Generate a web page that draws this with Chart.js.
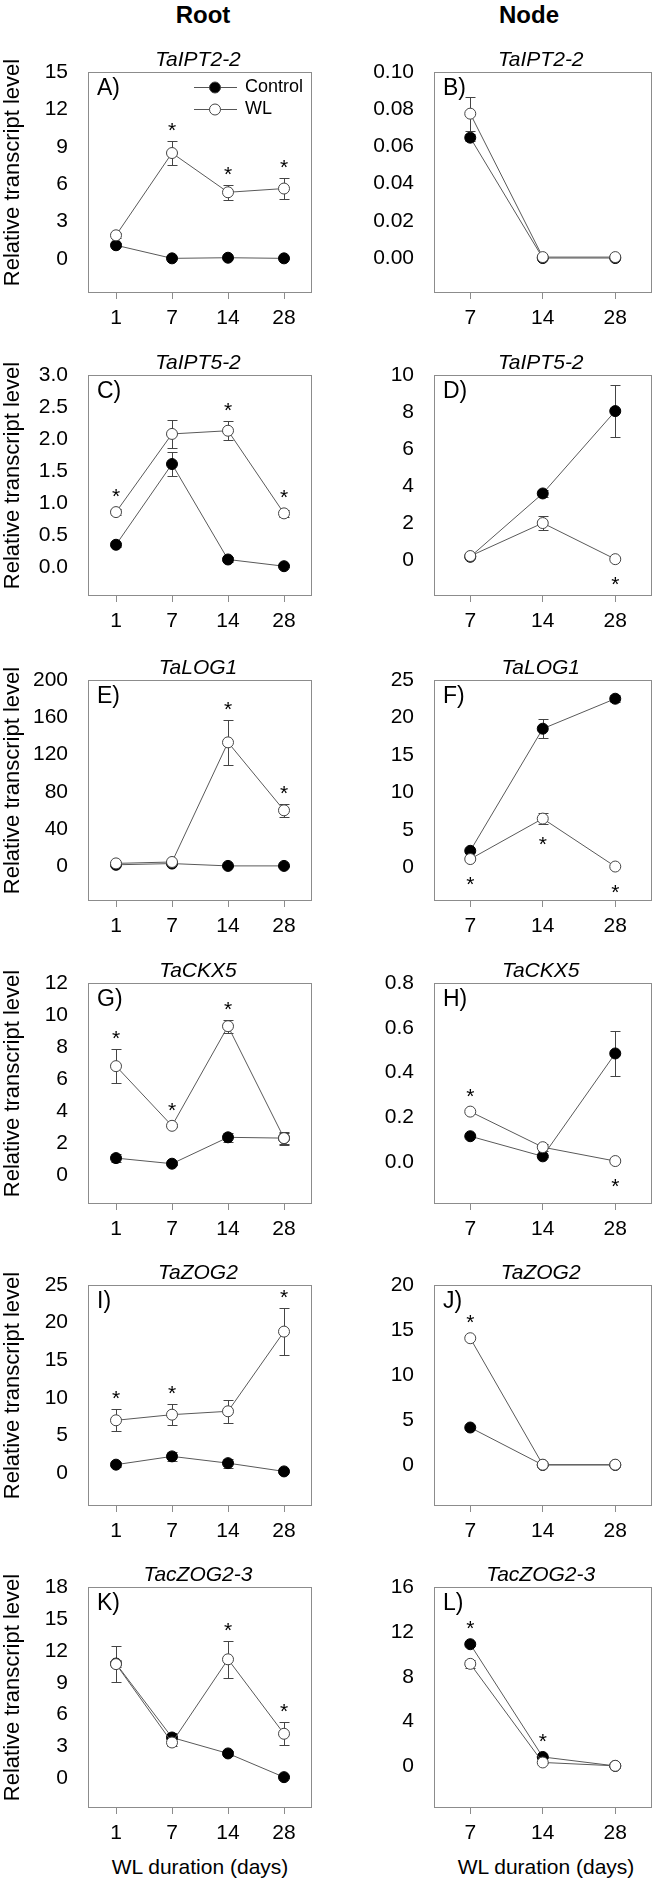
<!DOCTYPE html>
<html lang="en">
<head>
<meta charset="UTF-8">
<title>Cytokinin gene transcript levels</title>
<script src="https://cdn.jsdelivr.net/npm/chart.js"></script>
<style>
  body { margin: 0; background: #fff; }
  #fig { position: relative; width: 658px; height: 1880px; background: #fff; font-family: "Liberation Sans", Arial, sans-serif; }
  #fig canvas { position: absolute; }
  .head { position: absolute; font-weight: bold; font-size: 24px; transform: translate(-50%, -50%); }
  .xlab { position: absolute; font-size: 21px; transform: translate(-50%, -50%); white-space: nowrap; }
</style>
</head>
<body>
<div id="fig">
  <div class="head" style="left:203px;top:15px">Root</div>
  <div class="head" style="left:529px;top:15px">Node</div>
  <div class="xlab" style="left:200px;top:1867px">WL duration (days)</div>
  <div class="xlab" style="left:546px;top:1867px">WL duration (days)</div>
</div>
<script>
const rootDays = ['1', '7', '14', '28'];
const nodeDays = ['7', '14', '28'];

// A) TaIPT2-2, root
const aControl = [1.1, 0.05, 0.1, 0.05];
const aControlErr = [0.15, 0.05, 0.05, 0.05];
const aWL = [1.9, 8.5, 5.35, 5.65];
const aWLErr = [0.2, 0.95, 0.6, 0.85];
const aStars = ['', 'up', 'up', 'up'];
// B) TaIPT2-2, node
const bControl = [0.0647, 0.0, 0.0];
const bControlErr = [0.002, 0, 0];
const bWL = [0.0776, 0.0005, 0.0005];
const bWLErr = [0.0092, 0, 0];
const bStars = ['', '', ''];
// C) TaIPT5-2, root
const cControl = [0.35, 1.61, 0.12, 0.015];
const cControlErr = [0.03, 0.19, 0.04, 0.02];
const cWL = [0.86, 2.08, 2.13, 0.84];
const cWLErr = [0.05, 0.22, 0.15, 0.05];
const cStars = ['up', '', 'up', 'up'];
// D) TaIPT5-2, node
const dControl = [0.18, 3.6, 8.05];
const dControlErr = [0.05, 0.2, 1.4];
const dWL = [0.22, 2.0, 0.05];
const dWLErr = [0.05, 0.4, 0.05];
const dStars = ['', '', 'down'];
// E) TaLOG1, root
const eControl = [1.5, 2.8, 0.3, 0.3];
const eControlErr = [0.3, 0.5, 0.1, 0.1];
const eWL = [3.0, 4.5, 133, 60];
const eWLErr = [0.5, 1, 24.5, 7];
const eStars = ['', '', 'up', 'up'];
// F) TaLOG1, node
const fControl = [2.2, 18.5, 22.5];
const fControlErr = [0.2, 1.3, 0.5];
const fWL = [1.1, 6.5, 0.1];
const fWLErr = [0.1, 0.7, 0.05];
const fStars = ['down', 'down', 'down'];
// G) TaCKX5, root
const gControl = [1.05, 0.7, 2.35, 2.3];
const gControlErr = [0.25, 0.1, 0.3, 0.35];
const gWL = [6.8, 3.07, 9.3, 2.3];
const gWLErr = [1.05, 0.1, 0.4, 0.4];
const gStars = ['up', 'up', 'up', ''];
// H) TaCKX5, node
const hControl = [0.115, 0.025, 0.485];
const hControlErr = [0.005, 0.005, 0.1];
const hWL = [0.225, 0.066, 0.004];
const hWLErr = [0.008, 0.015, 0.003];
const hStars = ['up', '', 'down'];
// I) TaZOG2, root
const iControl = [1.1, 2.2, 1.3, 0.2];
const iControlErr = [0.3, 0.6, 0.6, 0.1];
const iWL = [7.0, 7.75, 8.2, 18.8];
const iWLErr = [1.45, 1.4, 1.5, 3.1];
const iStars = ['up', 'up', '', 'up'];
// J) TaZOG2, node
const jControl = [4.2, 0.05, 0.05];
const jControlErr = [0, 0, 0];
const jWL = [14.1, 0.08, 0.08];
const jWLErr = [0, 0, 0];
const jStars = ['up', '', ''];
// K) TacZOG2-3, root
const kControl = [10.8, 3.85, 2.35, 0.12];
const kControlErr = [0.3, 0.4, 0.2, 0.1];
const kWL = [10.75, 3.38, 11.2, 4.2];
const kWLErr = [1.7, 0.35, 1.75, 1.1];
const kStars = ['', '', 'up', 'up'];
// L) TacZOG2-3, node
const lControl = [10.9, 0.85, 0.05];
const lControlErr = [0.2, 0.1, 0.02];
const lWL = [9.15, 0.36, 0.06];
const lWLErr = [0.35, 0.05, 0.02];
const lStars = ['up', 'up', ''];

const FONT = '"Liberation Sans", Arial, sans-serif';
const rowTop = [72, 375, 680, 983, 1285, 1587];
const boxH = 221;
const pad = 44;

const panels = [
  { tag: 'A)', gene: 'TaIPT2-2', days: rootDays, ctrl: aControl, ctrlErr: aControlErr, wl: aWL, wlErr: aWLErr, stars: aStars, min: -2.73, max: 15, step: 3, dec: 0, col: 0, row: 0, legend: true },
  { tag: 'B)', gene: 'TaIPT2-2', days: nodeDays, ctrl: bControl, ctrlErr: bControlErr, wl: bWL, wlErr: bWLErr, stars: bStars, min: -0.0188, max: 0.1, step: 0.02, dec: 2, col: 1, row: 0 },
  { tag: 'C)', gene: 'TaIPT5-2', days: rootDays, ctrl: cControl, ctrlErr: cControlErr, wl: cWL, wlErr: cWLErr, stars: cStars, min: -0.45, max: 3, step: 0.5, dec: 1, col: 0, row: 1 },
  { tag: 'D)', gene: 'TaIPT5-2', days: nodeDays, ctrl: dControl, ctrlErr: dControlErr, wl: dWL, wlErr: dWLErr, stars: dStars, min: -1.94, max: 10, step: 2, dec: 0, col: 1, row: 1 },
  { tag: 'E)', gene: 'TaLOG1', days: rootDays, ctrl: eControl, ctrlErr: eControlErr, wl: eWL, wlErr: eWLErr, stars: eStars, min: -37.4, max: 200, step: 40, dec: 0, col: 0, row: 2 },
  { tag: 'F)', gene: 'TaLOG1', days: nodeDays, ctrl: fControl, ctrlErr: fControlErr, wl: fWL, wlErr: fWLErr, stars: fStars, min: -4.5, max: 25, step: 5, dec: 0, col: 1, row: 2 },
  { tag: 'G)', gene: 'TaCKX5', days: rootDays, ctrl: gControl, ctrlErr: gControlErr, wl: gWL, wlErr: gWLErr, stars: gStars, min: -1.82, max: 12, step: 2, dec: 0, col: 0, row: 3 },
  { tag: 'H)', gene: 'TaCKX5', days: nodeDays, ctrl: hControl, ctrlErr: hControlErr, wl: hWL, wlErr: hWLErr, stars: hStars, min: -0.188, max: 0.8, step: 0.2, dec: 1, col: 1, row: 3 },
  { tag: 'I)', gene: 'TaZOG2', days: rootDays, ctrl: iControl, ctrlErr: iControlErr, wl: iWL, wlErr: iWLErr, stars: iStars, min: -4.4, max: 25, step: 5, dec: 0, col: 0, row: 4 },
  { tag: 'J)', gene: 'TaZOG2', days: nodeDays, ctrl: jControl, ctrlErr: jControlErr, wl: jWL, wlErr: jWLErr, stars: jStars, min: -4.5, max: 20, step: 5, dec: 0, col: 1, row: 4 },
  { tag: 'K)', gene: 'TacZOG2-3', days: rootDays, ctrl: kControl, ctrlErr: kControlErr, wl: kWL, wlErr: kWLErr, stars: kStars, min: -2.78, max: 18, step: 3, dec: 0, col: 0, row: 5 },
  { tag: 'L)', gene: 'TacZOG2-3', days: nodeDays, ctrl: lControl, ctrlErr: lControlErr, wl: lWL, wlErr: lWLErr, stars: lStars, min: -3.7, max: 16, step: 4, dec: 0, col: 1, row: 5 }
];

// error bars, box, stars, labels drawn on top of the Chart.js scales
function decor(p) {
  return {
    id: 'decor',
    beforeDatasetsDraw(chart) {
      const ctx = chart.ctx, y = chart.scales.y;
      const sets = [[0, p.wlErr], [1, p.ctrlErr]];
      ctx.save();
      ctx.strokeStyle = '#444';
      ctx.lineWidth = 1;
      sets.forEach(([di, errs]) => {
        const ds = chart.data.datasets[di];
        chart.getDatasetMeta(di).data.forEach((pt, j) => {
          const e = errs[j];
          if (!e) return;
          const v = ds.data[j];
          const t = Math.round(y.getPixelForValue(v + e)) + 0.5;
          const b = Math.round(y.getPixelForValue(v - e)) + 0.5;
          const x = Math.round(pt.x) + 0.5;
          ctx.beginPath();
          ctx.moveTo(x, t); ctx.lineTo(x, b);
          ctx.moveTo(x - 5, t); ctx.lineTo(x + 5, t);
          ctx.moveTo(x - 5, b); ctx.lineTo(x + 5, b);
          ctx.stroke();
        });
      });
      ctx.restore();
    },
    afterDraw(chart) {
      const ctx = chart.ctx, a = chart.chartArea, y = chart.scales.y, x = chart.scales.x;
      ctx.save();
      ctx.strokeStyle = '#8c8c8c';
      ctx.lineWidth = 1;
      ctx.strokeRect(Math.round(a.left) + 0.5, Math.round(a.top) + 0.5, Math.round(a.right - a.left) - 1, Math.round(a.bottom - a.top) - 1);

      ctx.fillStyle = '#000';
      ctx.textAlign = 'left';
      ctx.textBaseline = 'middle';
      ctx.font = '23px ' + FONT;
      ctx.fillText(p.tag, a.left + 9, a.top + 17);

      ctx.textAlign = 'center';
      ctx.font = 'italic 21px ' + FONT;
      ctx.fillText(p.gene, (a.left + a.right) / 2 - 2, a.top - 12);

      if (p.col === 0) {
        ctx.save();
        ctx.translate(13, (a.top + a.bottom) / 2 - 10);
        ctx.rotate(-Math.PI / 2);
        ctx.font = '22px ' + FONT;
        ctx.fillText('Relative transcript level', 0, 0);
        ctx.restore();
      }

      // significance stars
      ctx.font = '21px ' + FONT;
      ctx.textBaseline = 'alphabetic';
      p.stars.forEach((s, j) => {
        if (!s) return;
        const cx = x.getPixelForValue(j);
        let cy;
        if (s === 'up') {
          const tops = [
            Math.min(y.getPixelForValue(p.ctrl[j] + p.ctrlErr[j]), y.getPixelForValue(p.ctrl[j]) - 5),
            Math.min(y.getPixelForValue(p.wl[j] + p.wlErr[j]), y.getPixelForValue(p.wl[j]) - 5)
          ];
          cy = Math.min(...tops) - 16;
        } else {
          const bots = [
            Math.max(y.getPixelForValue(p.ctrl[j] - p.ctrlErr[j]), y.getPixelForValue(p.ctrl[j]) + 5),
            Math.max(y.getPixelForValue(p.wl[j] - p.wlErr[j]), y.getPixelForValue(p.wl[j]) + 5)
          ];
          cy = Math.max(...bots) + 15;
        }
        ctx.fillText('*', cx, cy + 12);
      });

      if (p.legend) {
        const rows = [['Control', '#000', 15], ['WL', '#fff', 37]];
        ctx.font = '18px ' + FONT;
        ctx.textAlign = 'left';
        ctx.textBaseline = 'middle';
        rows.forEach(([name, fill, dy]) => {
          const ly = Math.round(a.top + dy) + 0.5;
          ctx.strokeStyle = '#555';
          ctx.beginPath();
          ctx.moveTo(a.left + 106, ly); ctx.lineTo(a.left + 149, ly);
          ctx.stroke();
          ctx.beginPath();
          ctx.arc(a.left + 127, ly, 5.5, 0, Math.PI * 2);
          ctx.fillStyle = fill;
          ctx.fill();
          ctx.strokeStyle = '#444';
          ctx.stroke();
          ctx.fillStyle = '#000';
          ctx.fillText(name, a.left + 157, ly);
        });
      }
      ctx.restore();
    }
  };
}

function makeChart(p) {
  const root = p.col === 0;
  const cv = document.createElement('canvas');
  cv.width = root ? 330 : 328;
  cv.height = pad + boxH + pad;
  cv.style.left = (root ? 0 : 330) + 'px';
  cv.style.top = (rowTop[p.row] - pad) + 'px';
  document.getElementById('fig').appendChild(cv);
  const yw = root ? 88 : 104;

  new Chart(cv, {
    type: 'line',
    data: {
      labels: p.days,
      datasets: [
        { label: 'WL', data: p.wl, order: 0, borderColor: '#595959', borderWidth: 1, pointRadius: 5.5, pointBackgroundColor: '#fff', pointBorderColor: '#444', pointBorderWidth: 1 },
        { label: 'Control', data: p.ctrl, order: 1, borderColor: '#595959', borderWidth: 1, pointRadius: 5.5, pointBackgroundColor: '#000', pointBorderColor: '#000', pointBorderWidth: 1 }
      ]
    },
    options: {
      responsive: false,
      animation: false,
      devicePixelRatio: 1,
      layout: { padding: { top: pad, right: root ? 18 : 2, left: 0, bottom: 0 } },
      plugins: { legend: { display: false }, tooltip: { enabled: false } },
      scales: {
        x: {
          type: 'category',
          offset: true,
          border: { display: false },
          grid: { display: true, drawOnChartArea: false, drawTicks: true, tickLength: 6, offset: false, color: '#8c8c8c' },
          ticks: { color: '#000', font: { family: FONT, size: 21 }, padding: 7, maxRotation: 0 },
          afterFit(s) { s.height = pad; }
        },
        y: {
          min: p.min,
          max: p.max,
          border: { display: false },
          grid: { display: false },
          ticks: {
            stepSize: p.step,
            includeBounds: false,
            color: '#000',
            font: { family: FONT, size: 21 },
            padding: 12,
            callback: v => (v < -1e-9 ? '' : Number(v).toFixed(p.dec))
          },
          afterFit(s) { s.width = yw; }
        }
      }
    },
    plugins: [decor(p)]
  });
}

panels.forEach(makeChart);
</script>
</body>
</html>
